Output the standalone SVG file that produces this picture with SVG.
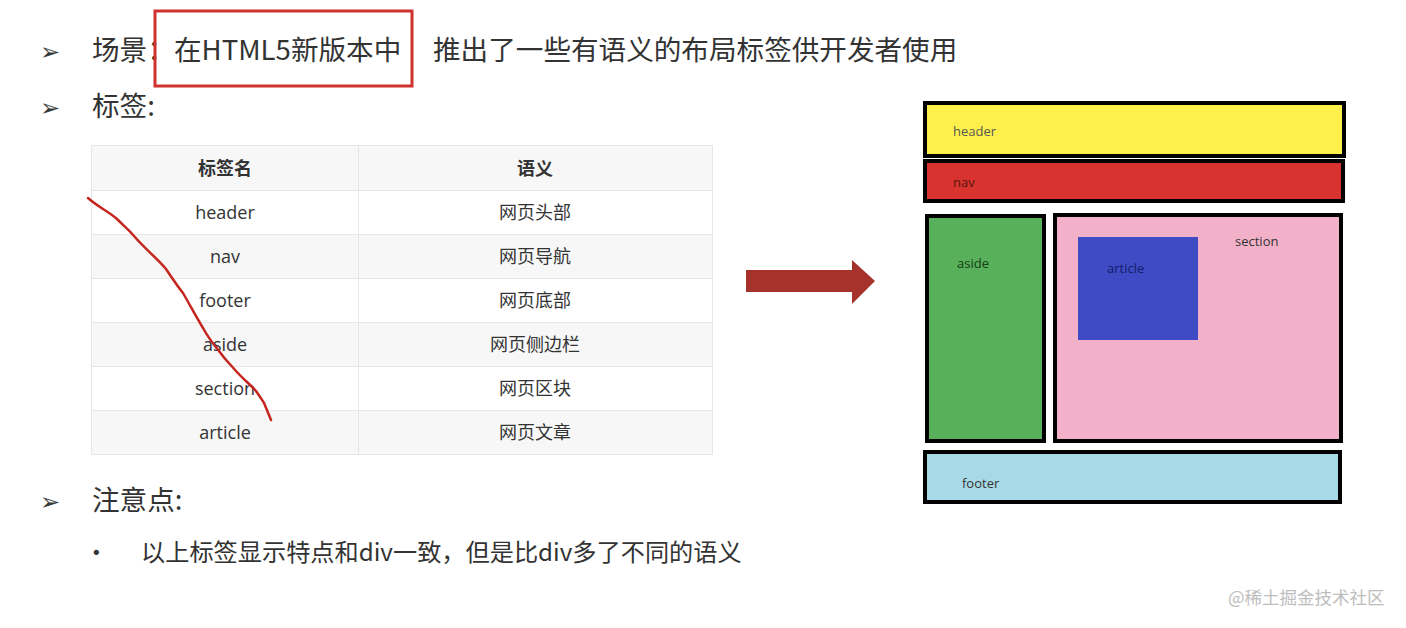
<svg xmlns="http://www.w3.org/2000/svg" width="1406" height="628" viewBox="0 0 1406 628">
<style>
.t{font-family:"Noto Sans CJK SC","Noto Sans",sans-serif;fill:#333}
.h{font-size:27.6px}
.b{font-family:"DejaVu Sans",sans-serif;font-size:24px;fill:#3a3a3a}
.c{font-family:"Open Sans","Noto Sans CJK SC",sans-serif;font-size:18px;fill:#333;text-anchor:middle}
.cb{font-weight:bold}
.box{stroke:#000;stroke-width:4}
.lb{font-family:"Open Sans","Noto Sans CJK SC",sans-serif;font-size:13px}
.row{stroke:#e6e6e6;stroke-width:1}
</style>
<rect width="1406" height="628" fill="#fff"/>
<g id="title">
<text class="b" x="40" y="60">➢</text>
<text class="t h" x="92" y="60">场景：</text>
<rect x="155" y="11" width="257" height="75" fill="none" stroke="#d0312d" stroke-width="3"/>
<text class="t h" x="174" y="60">在HTML5新版本中</text>
<text class="t h" x="433" y="60">推出了一些有语义的布局标签供开发者使用</text>
</g>
<g id="tags-label">
<text class="b" x="40" y="116">➢</text>
<text class="t h" x="92" y="116">标签:</text>
</g>
<g id="table">
<rect x="91" y="145" width="622" height="45" fill="#f7f7f7"/>
<rect x="91" y="190" width="622" height="44" fill="#fff"/>
<rect x="91" y="234" width="622" height="44" fill="#f7f7f7"/>
<rect x="91" y="278" width="622" height="44" fill="#fff"/>
<rect x="91" y="322" width="622" height="44" fill="#f7f7f7"/>
<rect x="91" y="366" width="622" height="44" fill="#fff"/>
<rect x="91" y="410" width="622" height="45" fill="#f7f7f7"/>
<g class="row" fill="none">
<rect x="91.5" y="145.5" width="621" height="309"/>
<line x1="358.5" y1="145" x2="358.5" y2="455"/>
<line x1="91" y1="190.5" x2="713" y2="190.5"/>
<line x1="91" y1="234.5" x2="713" y2="234.5"/>
<line x1="91" y1="278.5" x2="713" y2="278.5"/>
<line x1="91" y1="322.5" x2="713" y2="322.5"/>
<line x1="91" y1="366.5" x2="713" y2="366.5"/>
<line x1="91" y1="410.5" x2="713" y2="410.5"/>
</g>
<text class="c cb" x="225" y="175">标签名</text>
<text class="c cb" x="535" y="175">语义</text>
<text class="c" x="225" y="219">header</text><text class="c" x="535" y="219">网页头部</text>
<text class="c" x="225" y="263">nav</text><text class="c" x="535" y="263">网页导航</text>
<text class="c" x="225" y="307">footer</text><text class="c" x="535" y="307">网页底部</text>
<text class="c" x="225" y="351">aside</text><text class="c" x="535" y="351">网页侧边栏</text>
<text class="c" x="225" y="395">section</text><text class="c" x="535" y="395">网页区块</text>
<text class="c" x="225" y="439">article</text><text class="c" x="535" y="439">网页文章</text>
</g>
<path id="scribble" d="M88,198 C98,207 108,211 117,219 C124,226 130,231 134,236 C146,250 157,258 166,269 C174,281 178,287 183,293 C191,307 197,318 203,328 C209,339 214,345 219,351 C226,361 231,365 236,371 C244,380 251,385 256,391 C260,397 263,401 264,403 C267,410 269,415 271,420" fill="none" stroke="#c4261f" stroke-width="2.5" stroke-linecap="round"/>
<g id="arrow">
<polygon points="746,270 852,270 852,260 875,281 852,304 852,292 746,292" fill="#a5332c"/>
</g>
<g id="header-box">
<rect class="box" x="925" y="103" width="419" height="53" fill="#fdf04a"/>
<text class="lb" x="953" y="136" fill="#555">header</text>
</g>
<g id="nav-box">
<rect class="box" x="925" y="161" width="418" height="40" fill="#d8332e"/>
<text class="lb" x="953" y="187" fill="#5a1410">nav</text>
</g>
<g id="aside-box">
<rect class="box" x="927" y="216" width="117" height="225" fill="#58b05b"/>
<text class="lb" x="957" y="268" fill="#143d18">aside</text>
</g>
<g id="section-box">
<rect class="box" x="1055" y="215" width="286" height="226" fill="#f3b1c9"/>
<text class="lb" x="1235" y="246" fill="#333">section</text>
</g>
<g id="article-box">
<rect x="1078" y="237" width="120" height="103" fill="#3f4bc4"/>
<text class="lb" x="1107" y="273" fill="#141e6a">article</text>
</g>
<g id="footer-box">
<rect class="box" x="925" y="452" width="415" height="50" fill="#a8d9e6"/>
<text class="lb" x="962" y="488" fill="#333">footer</text>
</g>
<g id="notes">
<text class="b" x="40" y="510">➢</text>
<text class="t h" x="92" y="510">注意点:</text>
<text x="91" y="559" font-family="DejaVu Sans,sans-serif" font-size="18" fill="#333">•</text>
<text class="t" x="141" y="561" font-size="24.2">以上标签显示特点和div一致，但是比div多了不同的语义</text>
</g>
<text id="watermark" x="1228" y="604" font-family="Noto Sans CJK SC,sans-serif" font-size="17.5" fill="#bdbdbd">@稀土掘金技术社区</text>
</svg>
